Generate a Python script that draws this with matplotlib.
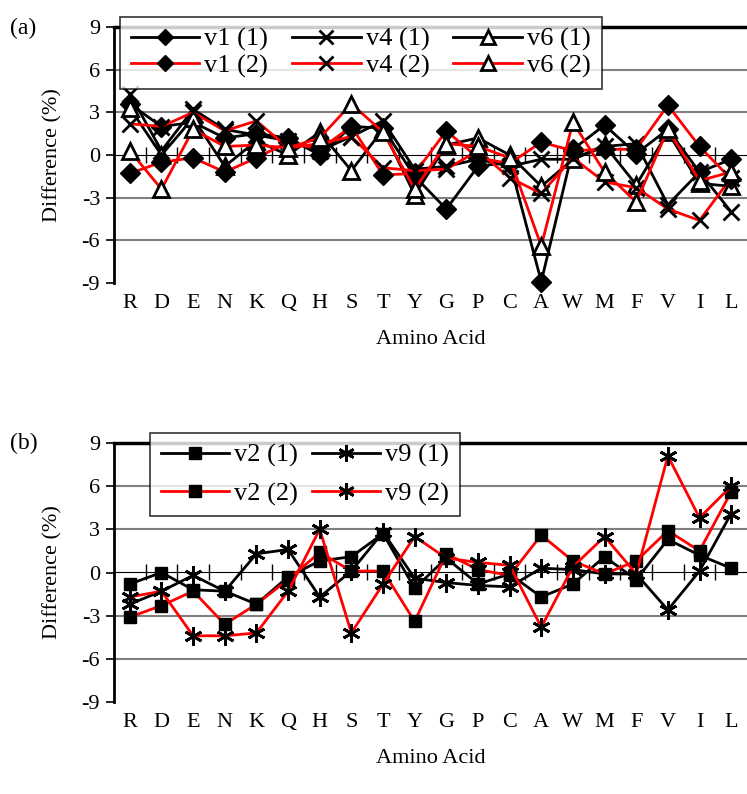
import matplotlib
matplotlib.use("Agg")
import matplotlib.pyplot as plt
from matplotlib.lines import Line2D

plt.rcParams['font.family'] = ['Liberation Serif', 'DejaVu Serif']

amino = ['R', 'D', 'E', 'N', 'K', 'Q', 'H', 'S', 'T', 'Y',
         'G', 'P', 'C', 'A', 'W', 'M', 'F', 'V', 'I', 'L']

# Panel (a)
v1_1 = [3.6, 2.0, 2.3, 1.2, 1.5, 1.2, 0.0, 2.0, 1.9, -1.5, -3.8, -0.8, -0.5, -8.9, 0.4, 2.1, 0.1, 1.8, -1.2, -0.3]
v1_2 = [-1.3, -0.5, -0.2, -1.2, -0.2, 0.9, 0.4, 2.0, -1.4, -1.3, 1.7, -0.2, -0.6, 0.9, 0.3, 0.4, 0.4, 3.5, 0.6, -1.7]
v4_1 = [4.3, 0.3, 3.2, 1.8, 1.4, 1.0, 0.3, 1.3, 2.4, -1.0, -0.8, -0.3, -0.8, -0.3, -0.3, 0.6, 0.8, -3.5, -1.2, -4.0]
v4_2 = [2.2, 2.0, 3.0, 1.7, 2.4, 0.5, 0.8, 1.3, -0.9, -1.1, -1.0, 0.3, -1.6, -2.7, -0.2, -1.9, -2.3, -3.8, -4.6, -1.6]
v6_1 = [3.3, 0.0, 2.6, -0.8, 1.0, 0.0, 1.6, -1.1, 1.8, -2.8, 0.7, 1.2, 0.0, -2.2, -0.3, 0.7, -2.1, 1.6, -2.0, -2.2]
v6_2 = [0.3, -2.4, 1.8, 0.6, 0.7, 0.5, 1.2, 3.6, 1.6, -2.4, 0.8, 0.6, -0.2, -6.4, 2.3, -1.2, -3.3, 1.8, -1.8, -1.2]

# Panel (b)
v2_1 = [-0.8, 0.0, -1.2, -1.3, -2.2, -0.3, 0.8, 1.1, 2.7, -1.1, 1.0, -0.8, -0.1, -1.7, -0.8, 1.1, -0.5, 2.3, 1.2, 0.3]
v2_2 = [-3.1, -2.3, -1.3, -3.6, -2.2, -0.5, 1.4, 0.1, 0.1, -3.4, 1.3, 0.2, -0.2, 2.6, 0.8, -0.1, 0.8, 2.9, 1.5, 5.6]
v9_1 = [-2.2, -1.3, -0.2, -1.3, 1.3, 1.6, -1.7, 0.1, 2.8, -0.4, -0.7, -0.9, -1.0, 0.3, 0.2, -0.1, -0.1, -2.6, 0.1, 4.1]
v9_2 = [-1.7, -1.3, -4.4, -4.4, -4.2, -1.3, 3.0, -4.2, -0.8, 2.5, 1.0, 0.7, 0.5, -3.8, 0.4, 2.5, -0.1, 8.1, 3.8, 6.0]

yticks = [9, 6, 3, 0, -3, -6, -9]

W, H = 747, 794
fig = plt.figure(figsize=(W / 100, H / 100), dpi=100)

asterisk = (6, 2, 0)
LW = 2.0
FS = 16

def setup(ax):
    ax.set_xlim(-0.5, len(amino) - 0.5)
    ax.set_ylim(-9, 9)
    ax.set_yticks(yticks)
    ax.set_yticklabels([str(t) for t in yticks], fontsize=FS)
    ax.set_xticks(range(len(amino)))
    ax.set_xticklabels(amino, fontsize=FS)
    ax.tick_params(axis='x', length=0, pad=8)
    ax.tick_params(axis='y', length=6, width=1.2, direction='out', pad=4)
    for t in [6, 3, -3, -6]:
        ax.axhline(t, color='#808080', lw=1.5, zorder=0)
    ax.spines['right'].set_visible(False)
    ax.spines['bottom'].set_visible(False)
    ax.spines['left'].set_linewidth(2.0)
    ax.spines['top'].set_linewidth(2.5)
    ax.set_xlabel('Amino Acid', fontsize=FS, labelpad=12)
    ax.set_ylabel('Difference (%)', fontsize=FS, labelpad=14)
    # zero axis with crossing ticks at category boundaries
    sec = ax.secondary_xaxis(0.5)
    sec.set_xticks([i + 0.5 for i in range(len(amino) - 1)])
    sec.set_xticklabels([])
    sec.tick_params(direction='inout', length=12, width=1.0, color='black')
    sec.spines['bottom'].set_linewidth(1.5)

def plot_series(ax, vals, color, marker, ms, mfc='black', mew=1.5):
    x = list(range(len(amino)))
    ax.plot(x, vals, color=color, lw=LW, marker=marker, markersize=ms,
            markerfacecolor=mfc, markeredgecolor='black', markeredgewidth=mew,
            clip_on=False, zorder=3)

# ---------- Panel (a)
axa = fig.add_axes([114 / W, 1 - 283 / H, (W - 114) / W, 256 / H])
setup(axa)
sa = [
    ('v1 (1)', v1_1, 'black', 'D', 10, 'black', 1.0),
    ('v4 (1)', v4_1, 'black', 'x', 12, 'black', 2.0),
    ('v6 (1)', v6_1, 'black', '^', 12, 'white', 2.0),
    ('v1 (2)', v1_2, 'red', 'D', 10, 'black', 1.0),
    ('v4 (2)', v4_2, 'red', 'x', 12, 'black', 2.0),
    ('v6 (2)', v6_2, 'red', '^', 12, 'white', 2.0),
]
for name, vals, c, m, ms, mfc, mew in sa:
    plot_series(axa, vals, c, m, ms, mfc, mew)

order_a = [0, 3, 1, 4, 2, 5]
handles_a = [Line2D([], [], color=sa[i][2], lw=LW, marker=sa[i][3], markersize=sa[i][4] * 0.85,
                    markerfacecolor=sa[i][5], markeredgecolor='black', markeredgewidth=sa[i][6])
             for i in order_a]
labels_a = [sa[i][0] for i in order_a]
leg = axa.legend(handles_a, labels_a, ncol=3, loc='upper left',
                 bbox_to_anchor=((120 - 114) / (W - 114), 1 + 10 / 256),
                 borderaxespad=0, fontsize=FS + 3, frameon=True, fancybox=False,
                 handlelength=2.6, handletextpad=0.2, columnspacing=0.9,
                 labelspacing=0.1, borderpad=0.4, numpoints=1)
leg.get_frame().set_edgecolor('black')
leg.get_frame().set_linewidth(1.2)
leg.set_zorder(10)

fig.text(10 / W, 1 - 28 / H, '(a)', fontsize=FS + 1, ha='left', va='center')

# ---------- Panel (b)
axb = fig.add_axes([114 / W, 1 - 702 / H, (W - 114) / W, 259 / H])
setup(axb)
sb = [
    ('v2 (1)', v2_1, 'black', 's', 9, 'black', 1.0),
    ('v9 (1)', v9_1, 'black', asterisk, 13, 'black', 2.0),
    ('v2 (2)', v2_2, 'red', 's', 9, 'black', 1.0),
    ('v9 (2)', v9_2, 'red', asterisk, 13, 'black', 2.0),
]
for name, vals, c, m, ms, mfc, mew in sb:
    plot_series(axb, vals, c, m, ms, mfc, mew)

order_b = [0, 2, 1, 3]
handles_b = [Line2D([], [], color=sb[i][2], lw=LW, marker=sb[i][3], markersize=sb[i][4] * 0.9,
                    markerfacecolor=sb[i][5], markeredgecolor='black', markeredgewidth=sb[i][6])
             for i in order_b]
labels_b = [sb[i][0] for i in order_b]
legb = axb.legend(handles_b, labels_b, ncol=2, loc='upper left',
                  bbox_to_anchor=((150 - 114) / (W - 114), 1 + 10 / 259),
                  borderaxespad=0, fontsize=FS + 3, frameon=True, fancybox=False,
                  handlelength=2.6, handletextpad=0.2, columnspacing=0.5,
                  labelspacing=0.55, borderpad=0.4, numpoints=1)
legb.get_frame().set_edgecolor('black')
legb.get_frame().set_linewidth(1.2)
legb.set_zorder(10)

fig.text(10 / W, 1 - 443 / H, '(b)', fontsize=FS + 1, ha='left', va='center')

fig.savefig('out.png', dpi=100)
